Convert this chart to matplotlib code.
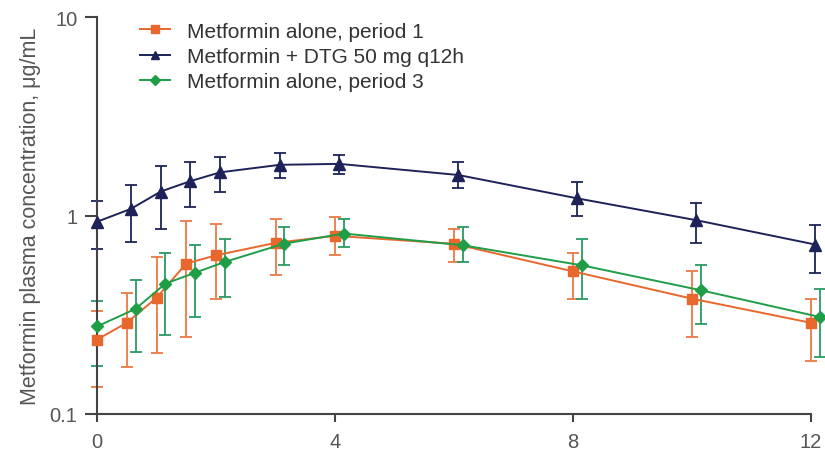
import numpy as np
import matplotlib.pyplot as plt

plt.rcParams['font.family'] = ['Liberation Sans', 'DejaVu Sans']

# nominal sampling times (h)
times = [0, 0.5, 1, 1.5, 2, 3, 4, 6, 8, 10, 12]

labels = ["Metformin alone, period 1",
          "Metformin + DTG 50 mg q12h",
          "Metformin alone, period 3"]

# geometric means and error bar ends (ug/mL)
p1_mean = [0.237, 0.288, 0.385, 0.573, 0.63, 0.728, 0.79, 0.72, 0.523, 0.381, 0.288]
p1_low = [0.137, 0.172, 0.203, 0.244, 0.381, 0.50, 0.63, 0.58, 0.378, 0.244, 0.184]
p1_high = [0.33, 0.408, 0.618, 0.936, 0.91, 0.96, 0.98, 0.86, 0.65, 0.523, 0.381]

dtg_mean = [0.93, 1.08, 1.32, 1.49, 1.65, 1.80, 1.82, 1.60, 1.22, 0.947, 0.714]
dtg_low = [0.68, 0.736, 0.86, 1.11, 1.31, 1.54, 1.61, 1.38, 0.996, 0.73, 0.515]
dtg_high = [1.18, 1.42, 1.78, 1.85, 1.98, 2.06, 2.02, 1.87, 1.47, 1.16, 0.893]

p3_mean = [0.276, 0.339, 0.454, 0.515, 0.584, 0.722, 0.811, 0.708, 0.561, 0.42, 0.308]
p3_low = [0.175, 0.205, 0.25, 0.308, 0.387, 0.561, 0.695, 0.58, 0.378, 0.285, 0.193]
p3_high = [0.373, 0.471, 0.65, 0.714, 0.765, 0.877, 0.958, 0.877, 0.759, 0.561, 0.425]

series = [
    (p1_mean, p1_low, p1_high, "#e8672c", "#ec7a45", "s", 7, 0.0),
    (dtg_mean, dtg_low, dtg_high, "#1d2358", "#1d2358", "^", 8, 0.07),
    (p3_mean, p3_low, p3_high, "#1f9e47", "#2a9a63", "D", 6.5, 0.15),
]

fig = plt.figure(figsize=(8.25, 4.52), dpi=100)
ax = fig.add_axes([97/825, 1 - 415/452, 723/825, 397/452])

t = np.array(times, dtype=float)
for (m, lo, hi, col, ecol, mk, ms, off), lab in zip(series, labels):
    m = np.array(m); lo = np.array(lo); hi = np.array(hi)
    x = t + off * (t > 0)
    ax.errorbar(x, m, yerr=[m - lo, hi - m], fmt="none", ecolor=ecol,
                elinewidth=1.3, capsize=4, capthick=1.3, clip_on=False, zorder=2)
    ax.plot(x, m, color=col, lw=1.4, marker=mk, ms=ms, label=lab,
            clip_on=False, zorder=3)

ax.set_yscale("log")
ax.set_ylim(0.1, 10)
ax.set_xlim(0, 12.15)
ax.set_yticks([0.1, 1, 10])
ax.set_yticklabels(["0.1", "1", "10"])
ax.yaxis.set_minor_locator(plt.NullLocator())
ax.set_xticks([0, 4, 8, 12])

for s in ["top", "right"]:
    ax.spines[s].set_visible(False)
for s in ["left", "bottom"]:
    ax.spines[s].set_color("#444444")
    ax.spines[s].set_linewidth(1.5)
ax.spines["bottom"].set_bounds(0, 12)
ax.tick_params(axis="both", width=1.5, color="#444444",
               labelsize=14.5, labelcolor="#555555")
ax.tick_params(axis="y", length=9, pad=5)
ax.tick_params(axis="x", length=6, pad=7)

ax.set_ylabel("Metformin plasma concentration, \u03bcg/mL", fontsize=15.5,
              color="#555555", labelpad=6)

ax.legend(loc="upper left", bbox_to_anchor=(43/723, 0.988), frameon=False,
          fontsize=15, borderpad=0, borderaxespad=0, handlelength=1.45,
          handletextpad=0.8, labelspacing=0.3, markerscale=0.8,
          labelcolor="#333333")

fig.savefig("out.png", dpi=100)
